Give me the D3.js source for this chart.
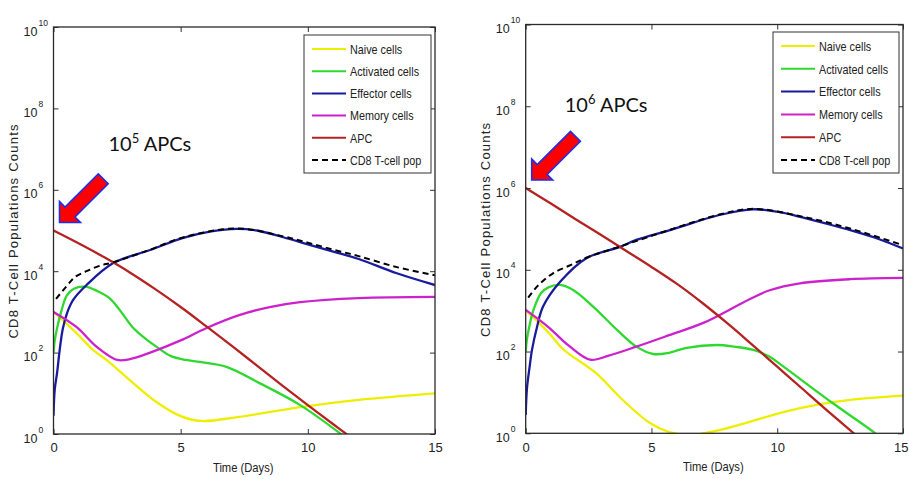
<!DOCTYPE html>
<html>
<head>
<meta charset="utf-8">
<script src="https://cdn.jsdelivr.net/npm/d3@7"></script>
<style>
body { margin: 0; background: #fff; }
text { font-family: "Liberation Sans", Arial, sans-serif; fill: #222; }
</style>
</head>
<body>
<div id="chart"></div>
<script>
"use strict"

const seriesNames = ["Naive cells", "Activated cells", "Effector cells", "Memory cells", "APC", "CD8 T-cell pop"];
const seriesColors = ["#eeee00", "#2fd82f", "#1a1a9c", "#cc22cc", "#b52222", "#000000"];
const xTicks = [0, 5, 10, 15];
const yTickExps = [0, 2, 4, 6, 8, 10];

// [day, log10(count)] -- 10^5 APCs
const naive5 = [[0,3.0],[0.5,2.72],[1,2.42],[1.5,2.1],[2.2,1.76],[3.1,1.27],[4.06,0.78],[5,0.44],[5.8,0.32],[7.3,0.42],[9.7,0.66],[12,0.84],[15,1.0]];
const activated5 = [[0,2.0],[0.05,2.3],[0.14,2.6],[0.3,3.0],[0.52,3.4],[0.8,3.57],[1.24,3.62],[1.7,3.52],[2.2,3.34],[2.6,3.05],[3.1,2.63],[3.6,2.35],[4.06,2.14],[4.6,1.92],[5.2,1.82],[5.76,1.77],[6.8,1.65],[8.1,1.25],[9.7,0.71],[11.3,0.0],[11.6,-0.15]];
const effector5 = [[0,0.45],[0.05,1.1],[0.14,1.5],[0.25,2.1],[0.37,2.6],[0.55,3.0],[0.78,3.3],[1.3,3.66],[2.35,4.2],[3.8,4.52],[5.1,4.82],[6.2,4.98],[7.2,5.04],[8,5.0],[9,4.84],[10,4.66],[11,4.48],[12,4.3],[13.5,3.95],[15,3.66]];
const memory5 = [[0,3.0],[0.9,2.63],[1.7,2.14],[2.5,1.82],[3.0,1.84],[3.8,2.0],[5,2.3],[6,2.6],[7.3,2.92],[8.5,3.12],[9.7,3.24],[12,3.34],[15,3.37]];
const apc5 = [[0,5.0],[1,4.68],[2,4.34],[3,3.97],[4,3.56],[5,3.12],[6,2.65],[7,2.17],[8,1.68],[9,1.19],[10,0.71],[11,0.24],[11.6,-0.04]];
const total5 = [[0.1,3.32],[0.5,3.62],[0.85,3.86],[1.3,4.0],[1.8,4.13],[2.35,4.22],[3.8,4.53],[5.1,4.83],[7.2,5.05],[9,4.86],[10,4.7],[11,4.53],[12,4.37],[13.5,4.1],[15,3.9]];

// [day, log10(count)] -- 10^6 APCs
const naive6 = [[0,3.0],[0.5,2.72],[1,2.4],[1.5,2.05],[2.8,1.47],[3.85,0.82],[4.94,0.25],[5.7,0.03],[6.6,-0.04],[7.7,0.08],[8.9,0.28],[10.25,0.52],[11.6,0.7],[12.9,0.82],[15,0.92]];
const activated6 = [[0,2.0],[0.05,2.3],[0.14,2.6],[0.3,3.0],[0.6,3.42],[0.9,3.57],[1.36,3.63],[1.9,3.5],[2.68,3.1],[3.63,2.53],[4.4,2.12],[5.07,1.94],[5.7,1.97],[6.4,2.09],[7.6,2.16],[8.3,2.12],[9.05,2.04],[9.7,1.87],[10.25,1.63],[12.2,0.74],[13.9,0.0],[14.2,-0.15]];
const effector6 = [[0,0.45],[0.05,1.1],[0.15,1.6],[0.25,2.04],[0.45,2.6],[0.69,3.1],[1.36,3.7],[2.43,4.29],[3.75,4.56],[4.4,4.73],[5.74,4.97],[7.7,5.34],[9.05,5.48],[10,5.42],[11,5.28],[12,5.12],[13,4.95],[14,4.76],[15,4.52]];
const memory6 = [[0,3.02],[0.9,2.6],[1.7,2.15],[2.56,1.8],[3.3,1.9],[4.4,2.12],[5.7,2.4],[7.06,2.7],[8.4,3.12],[8.9,3.28],[9.7,3.5],[10.9,3.67],[12.9,3.77],[15,3.8]];
const apc6 = [[0,6.0],[1,5.62],[2,5.23],[3,4.85],[4,4.46],[5,4.07],[6,3.66],[7,3.2],[8,2.7],[9,2.17],[10,1.63],[11,1.09],[12,0.55],[13.1,-0.03]];
const total6 = [[0.1,3.32],[0.5,3.62],[1.1,3.92],[1.8,4.12],[2.43,4.3],[3.75,4.57],[5.74,4.98],[7.7,5.35],[9.05,5.49],[11,5.3],[13,4.99],[15,4.6]];

const width = 909, height = 479;

const panels = [
    { apc: 5, series: [naive5, activated5, effector5, memory5, apc5, total5],
      left: 53.5, right: 435, top: 27, bottom: 434,
      legend: { x: 304, y: 35, w: 127, h: 138 },
      label: { dx: 55, y: 151 } },
    { apc: 6, series: [naive6, activated6, effector6, memory6, apc6, total6],
      left: 525.7, right: 903, top: 24.5, bottom: 433.3,
      legend: { x: 773, y: 32, w: 126, h: 141 },
      label: { dx: 39, y: 112 } }
];

const svg = d3.select("#chart").append("svg")
    .attr("width", width)
    .attr("height", height);

svg.append("rect").attr("width", width).attr("height", height).attr("fill", "#fff");

// MATLAB's labels look like a narrow Helvetica: squeeze the glyphs.
// align: 0 = start, 0.5 = middle, 1 = end (relative to x0)
function condense(sel, k, x0, align) {
    sel.each(function () {
        const t = d3.select(this).attr("text-anchor", "start");
        const w = this.getComputedTextLength() * k;
        t.attr("textLength", w)
            .attr("lengthAdjust", "spacingAndGlyphs")
            .attr("x", x0 - w * align);
    });
}

function drawPanel(p) {
    const x = d3.scaleLinear().domain([0, 15]).range([p.left, p.right]);
    const y = d3.scaleLog().domain([1, 1e10]).range([p.bottom, p.top]);
    const g = svg.append("g");

    const clipId = "clip" + p.apc;
    svg.append("clipPath").attr("id", clipId)
        .append("rect")
        .attr("x", p.left).attr("y", p.top)
        .attr("width", p.right - p.left).attr("height", p.bottom - p.top);

    const line = d3.line()
        .x(d => x(d[0]))
        .y(d => y(Math.pow(10, d[1])))
        .curve(d3.curveCatmullRom.alpha(0.5));

    // curves
    const curves = g.append("g").attr("clip-path", "url(#" + clipId + ")");
    p.series.forEach((s, i) => {
        curves.append("path")
            .attr("d", line(s))
            .attr("fill", "none")
            .attr("stroke", seriesColors[i])
            .attr("stroke-width", i === 5 ? 2 : 2.3)
            .attr("stroke-dasharray", i === 5 ? "6,4" : null);
    });

    // axes (MATLAB style, ticks inside)
    const xb = g.append("g")
        .attr("transform", "translate(0," + p.bottom + ")")
        .call(d3.axisBottom(x).tickValues(xTicks).tickSize(-5).tickPadding(9));
    g.append("g")
        .attr("transform", "translate(0," + p.top + ")")
        .call(d3.axisTop(x).tickValues(xTicks).tickSize(-5).tickFormat(""));

    const yVals = yTickExps.map(e => Math.pow(10, e));
    const yl = g.append("g")
        .attr("transform", "translate(" + p.left + ",0)")
        .call(d3.axisLeft(y).tickValues(yVals).tickSize(-5).tickFormat(""));
    g.append("g")
        .attr("transform", "translate(" + p.right + ",0)")
        .call(d3.axisRight(y).tickValues(yVals).tickSize(-5).tickFormat(""));

    g.selectAll(".domain").remove();
    g.selectAll(".tick line").attr("stroke", "#333");
    g.selectAll(".tick text").filter(function () { return this.textContent === ""; }).remove();
    xb.selectAll("text")
        .attr("font-size", 13)
        .attr("fill", "#222")
        .style("font-family", "'Liberation Sans', Arial, sans-serif")
        .attr("text-anchor", d => d === 15 && p.apc === 6 ? "end" : "middle")
        .attr("x", d => d === 15 && p.apc === 6 ? 5 : 0);

    yl.selectAll(".tick").each(function (d) {
        const tk = d3.select(this);
        tk.append("text")
            .attr("x", -16)
            .attr("y", 8)
            .attr("text-anchor", "end")
            .attr("font-size", 12.5)
            .text("10");
        tk.append("text")
            .attr("x", -15)
            .attr("y", -2)
            .attr("text-anchor", "start")
            .attr("font-size", 8.5)
            .text(Math.round(Math.log10(d)));
    });

    // frame
    g.append("rect")
        .attr("x", p.left).attr("y", p.top)
        .attr("width", p.right - p.left).attr("height", p.bottom - p.top)
        .attr("fill", "none").attr("stroke", "#2a2a2a").attr("stroke-width", 1.3);

    // axis titles
    const xt = g.append("text")
        .attr("y", p.bottom + 38)
        .attr("font-size", 13.5)
        .text("Time (Days)");
    condense(xt, 0.83, (p.left + p.right) / 2 - 1, 0.5);
    g.append("text")
        .attr("transform", "translate(" + (p.left - 36) + "," + ((p.top + p.bottom) / 2 + 1) + ") rotate(-90)")
        .attr("text-anchor", "middle")
        .attr("font-size", 13)
        .attr("textLength", 214)
        .text("CD8 T-Cell Populations Counts");

    // legend
    const L = p.legend;
    const lg = g.append("g").attr("transform", "translate(" + L.x + "," + L.y + ")");
    lg.append("rect")
        .attr("width", L.w).attr("height", L.h)
        .attr("fill", "#fff").attr("stroke", "#333").attr("stroke-width", 1);
    const step = (L.h - 27) / 5;
    seriesNames.forEach((name, i) => {
        const ry = 14 + i * step;
        lg.append("line")
            .attr("x1", 8).attr("x2", 42)
            .attr("y1", ry).attr("y2", ry)
            .attr("stroke", seriesColors[i])
            .attr("stroke-width", 2)
            .attr("stroke-dasharray", i === 5 ? "6,4" : null);
        const lt = lg.append("text")
            .attr("y", ry)
            .attr("dy", "0.36em")
            .attr("font-size", 13.5)
            .text(name);
        condense(lt, 0.8, 46, 0);
    });

    // annotation arrow pointing at the initial APC level
    const tip = [x(0) + 6, y(Math.pow(10, p.apc)) - 8];
    const s2 = Math.SQRT1_2;
    const wing = 21, shaftLen = 47, hw = 7;
    const M = [tip[0] + wing / 2, tip[1] - wing / 2];
    const T = [M[0] + shaftLen * s2, M[1] - shaftLen * s2];
    const n = [hw * s2, hw * s2];
    const pts = [
        tip,
        [tip[0] + wing, tip[1]],
        [M[0] + n[0], M[1] + n[1]],
        [T[0] + n[0], T[1] + n[1]],
        [T[0] - n[0], T[1] - n[1]],
        [M[0] - n[0], M[1] - n[1]],
        [tip[0], tip[1] - wing]
    ];
    g.append("polygon")
        .attr("points", pts.map(q => q.join(",")).join(" "))
        .attr("fill", "#ff0000")
        .attr("stroke", "#1f2fe8")
        .attr("stroke-width", 1.6)
        .attr("stroke-linejoin", "miter");

    const ann = g.append("text")
        .attr("x", x(0) + p.label.dx)
        .attr("y", p.label.y)
        .attr("font-size", 20)
        .style("font-family", "Lato, 'Open Sans', sans-serif")
        .style("fill", "#111");
    ann.append("tspan").text("10");
    ann.append("tspan").attr("dy", -8).attr("font-size", 13).text(p.apc);
    ann.append("tspan").attr("dy", 8).text(" APCs");
}

panels.forEach(drawPanel);
</script>
</body>
</html>
